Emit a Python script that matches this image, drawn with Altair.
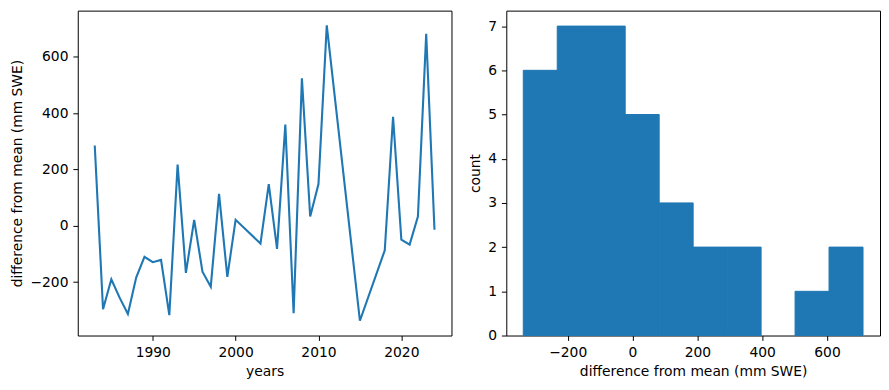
import altair as alt
import pandas as pd

years = [1983, 1984, 1985, 1986, 1987, 1988, 1989, 1990, 1991, 1992, 1993, 1994,
         1995, 1996, 1997, 1998, 1999, 2000, 2003, 2004, 2005, 2006, 2007, 2008,
         2009, 2010, 2011, 2015, 2018, 2019, 2020, 2021, 2022, 2023, 2024]
diffs = [285, -296, -190, -255, -313, -184, -110, -129, -121, -317, 217, -167,
         21, -163, -216, 113, -181, 21, -63, 148, -82, 359, -310, 523,
         33, 148, 711, -337, -87, 387, -49, -67, 33, 681, -14]

x_ticks = [1990, 2000, 2010, 2020]
y_ticks = [-200, 0, 200, 400, 600]
hist_x_ticks = [-200, 0, 200, 400, 600]
hist_y_ticks = [0, 1, 2, 3, 4, 5, 6, 7]
n_bins = 10

df = pd.DataFrame({"year": years, "diff": diffs})
blue = "#1f77b4"
FS = 13.9

line = alt.Chart(df).mark_line(color=blue, strokeWidth=2.1).encode(
    x=alt.X("year:Q", title="years",
            scale=alt.Scale(domain=[1980.95, 2026.05], nice=False, zero=False),
            axis=alt.Axis(values=x_ticks, format="d")),
    y=alt.Y("diff:Q", title="difference from mean (mm SWE)",
            scale=alt.Scale(domain=[-389.4, 763.4], nice=False, zero=False),
            axis=alt.Axis(values=y_ticks, format="d")),
).properties(width=375, height=326)

hist = alt.Chart(df).transform_joinaggregate(
    mn="min(diff)", mx="max(diff)"
).transform_calculate(
    w=f"(datum.mx - datum.mn) / {n_bins}"
).transform_calculate(
    idx=f"min(floor((datum.diff - datum.mn) / datum.w), {n_bins - 1})"
).transform_aggregate(
    count="count()", groupby=["idx", "mn", "w"]
).transform_calculate(
    x0="datum.mn + datum.idx * datum.w",
    x1="datum.mn + (datum.idx + 1) * datum.w",
).mark_bar(color=blue, stroke=blue, strokeWidth=1, opacity=1).encode(
    x=alt.X("x0:Q", title="difference from mean (mm SWE)",
            scale=alt.Scale(domain=[-389.4, 763.4], nice=False, zero=False),
            axis=alt.Axis(values=hist_x_ticks, format="d")),
    x2="x1:Q",
    y=alt.Y("count:Q", title="count",
            scale=alt.Scale(domain=[0, 7.35], nice=False),
            axis=alt.Axis(values=hist_y_ticks, format="d")),
    y2=alt.datum(0),
).properties(width=375, height=326)

chart = alt.hconcat(line, hist, spacing=15).properties(
    padding={"left": 1, "top": 1, "right": 0, "bottom": 5}
).configure_view(
    stroke="black", strokeWidth=1
).configure_axis(
    grid=False,
    domain=False,
    tickColor="black",
    tickSize=4.9,
    tickWidth=1,
    labelPadding=4.9,
    labelFont="DejaVu Sans",
    labelFontSize=FS,
    labelColor="black",
    titleFont="DejaVu Sans",
    titleFontSize=FS,
    titleFontWeight="normal",
    titleColor="black",
    titlePadding=5.6,
)

chart.save("out.html", embed_options={"renderer": "svg", "actions": False})
